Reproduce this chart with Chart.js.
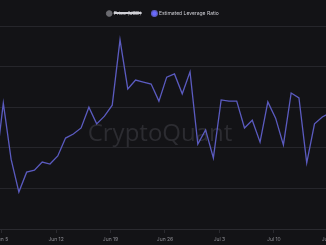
<!DOCTYPE html>
<html>
<head>
<meta charset="utf-8">
<script src="https://cdn.jsdelivr.net/npm/chart.js@4"></script>
<style>
html,body{margin:0;padding:0;background:#131316;}
#wrap{position:relative;width:326px;height:245px;overflow:hidden;background:#131316;}
</style>
</head>
<body>
<div id="wrap"><canvas id="c"></canvas></div>
<script>
// Dates (daily), from Jun 4 to Jul 17
const dates = ["2023-06-04","2023-06-05","2023-06-06","2023-06-07","2023-06-08","2023-06-09","2023-06-10","2023-06-11","2023-06-12","2023-06-13","2023-06-14","2023-06-15","2023-06-16","2023-06-17","2023-06-18","2023-06-19","2023-06-20","2023-06-21","2023-06-22","2023-06-23","2023-06-24","2023-06-25","2023-06-26","2023-06-27","2023-06-28","2023-06-29","2023-06-30","2023-07-01","2023-07-02","2023-07-03","2023-07-04","2023-07-05","2023-07-06","2023-07-07","2023-07-08","2023-07-09","2023-07-10","2023-07-11","2023-07-12","2023-07-13","2023-07-14","2023-07-15","2023-07-16","2023-07-17"];
// Estimated Leverage Ratio values
const leverageRatio = [0.2048,0.2210,0.2072,0.1991,0.2040,0.2045,0.2065,0.2060,0.2080,0.2124,0.2134,0.2149,0.2200,0.2159,0.2178,0.2205,0.2366,0.2245,0.2267,0.2262,0.2257,0.2215,0.2274,0.2282,0.2233,0.2287,0.2109,0.2144,0.2075,0.2218,0.2215,0.2215,0.2149,0.2168,0.2114,0.2213,0.2173,0.2107,0.2235,0.2223,0.2063,0.2159,0.2176,0.2186];
const priceUsd = [];
const tickLabels = ["Jun 5","Jun 12","Jun 19","Jun 26","Jul 3","Jul 10","Jul 17"];
const seriesNames = ["Price (USD)","Estimated Leverage Ratio"];

const base = Date.UTC(2023,5,5);
const dayIdx = d => (Date.parse(d+"T00:00:00Z") - base)/86400000;
const pts = dates.map((d,i)=>({x: dayIdx(d)+0.22, y: leverageRatio[i]}));

const pxPerDay = 7.78;
const xMin = -1.6/pxPerDay;
const xMax = xMin + 326/pxPerDay;

const watermark = {
  id:'watermark',
  beforeDatasetsDraw(chart){
    const {ctx} = chart;
    ctx.save();
    ctx.font = '24px "Open Sans", "Liberation Sans", sans-serif';
    ctx.fillStyle = '#2c2c31';
    ctx.textAlign = 'center';
    ctx.textBaseline = 'alphabetic';
    ctx.fillText('CryptoQuant', 160, 141);
    ctx.restore();
  }
};

new Chart(document.getElementById('c'), {
  type: 'line',
  data: {
    datasets: [
      {label: seriesNames[0], data: priceUsd, hidden: true, borderColor:'#6b6b70', backgroundColor:'#6b6b70', pointRadius:0},
      {label: seriesNames[1], data: pts, borderColor:'#5b5bc0', backgroundColor:'#6a6aff', borderWidth:1.3, pointRadius:0, tension:0}
    ]
  },
  options: {
    responsive: true,
    maintainAspectRatio: false,
    animation: false,
    devicePixelRatio: 1,
    layout: {padding: 0},
    plugins: {
      legend: {
        display: true,
        labels: {
          usePointStyle: true,
          pointStyle: 'circle',
          boxWidth: 4, boxHeight: 4,
          padding: 11,
          color: '#d0d0d6',
          font: {size: 5, family: 'Inter, sans-serif'}
        }
      },
      tooltip: {enabled: false}
    },
    scales: {
      x: {
        type: 'linear',
        min: xMin, max: xMax,
        afterBuildTicks(scale){ scale.ticks = tickLabels.map((l,k)=>({value:k*7})); },
        afterFit(scale){ scale.paddingLeft = 0; scale.paddingRight = 0; },
        ticks: {
          autoSkip:false, maxRotation:0, minRotation:0,
          color:'#8a8a90', padding:3,
          font:{size:5, family:'Inter, sans-serif'},
          callback:(v)=>{ const k = Math.round(v/7); return tickLabels[k] ?? ''; }
        },
        grid: {drawOnChartArea:false, drawTicks:true, tickLength:4, color:'#2a2a2f'},
        border: {display:true, color:'#2a2a2f'}
      },
      y: {
        min: 0.19, max: 0.24,
        ticks: {display:false, stepSize:0.01},
        grid: {color:'#26262b', drawTicks:false},
        border: {display:false}
      }
    }
  },
  plugins: [watermark]
});
</script>
</body>
</html>
